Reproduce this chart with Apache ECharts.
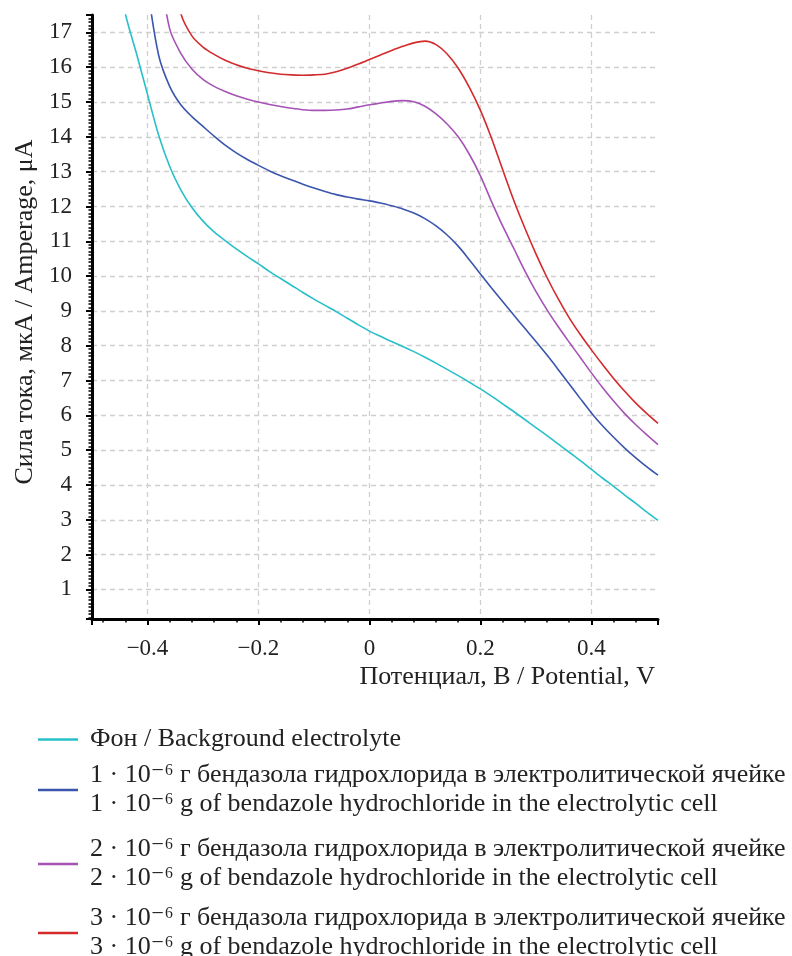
<!DOCTYPE html>
<html>
<head>
<meta charset="utf-8">
<script src="https://cdn.jsdelivr.net/npm/echarts@6/dist/echarts.min.js"></script>
<style>
  html, body { margin: 0; padding: 0; background: #fff; }
  #chart { width: 792px; height: 956px; }
</style>
</head>
<body>
<div id="chart"></div>
<script>
// potential, V
const potential = [
  -0.48, -0.46, -0.44, -0.42, -0.40, -0.38, -0.36, -0.34, -0.32, -0.30,
  -0.28, -0.26, -0.24, -0.22, -0.20, -0.18, -0.16, -0.14, -0.12, -0.10,
  -0.08, -0.06, -0.04, -0.02, 0.00, 0.02, 0.04, 0.06, 0.08, 0.10,
  0.12, 0.14, 0.16, 0.18, 0.20, 0.22, 0.24, 0.26, 0.28, 0.30,
  0.32, 0.34, 0.36, 0.38, 0.40, 0.42, 0.44, 0.46, 0.48, 0.50, 0.52
]

// current, uA
const background = [
  null, 19.4, 17.55, 16.4, 15.22, 14.05, 13.15, 12.48, 11.97, 11.58,
  11.27, 11.02, 10.78, 10.56, 10.35, 10.13, 9.93, 9.73, 9.53, 9.34,
  9.16, 8.98, 8.79, 8.6, 8.42, 8.27, 8.12, 7.98, 7.83, 7.67,
  7.5, 7.32, 7.14, 6.95, 6.76, 6.55, 6.33, 6.11, 5.88, 5.65,
  5.42, 5.18, 4.94, 4.7, 4.45, 4.2, 3.96, 3.71, 3.47, 3.22, 2.98
]
const dose1 = [
  null, null, null, null, 18.3, 16.35, 15.45, 14.92, 14.58, 14.3,
  14.02, 13.76, 13.54, 13.35, 13.18, 13.02, 12.88, 12.76, 12.64, 12.53,
  12.43, 12.34, 12.27, 12.21, 12.16, 12.1, 12.02, 11.93, 11.81, 11.65,
  11.44, 11.18, 10.86, 10.47, 10.06, 9.66, 9.27, 8.88, 8.5, 8.12,
  7.73, 7.32, 6.9, 6.48, 6.07, 5.7, 5.37, 5.06, 4.78, 4.52, 4.28
]
const dose2 = [
  null, null, null, null, null, 19.0, 17.1, 16.4, 15.95, 15.65,
  15.45, 15.3, 15.18, 15.08, 15.0, 14.93, 14.87, 14.82, 14.78, 14.76,
  14.76, 14.77, 14.8, 14.86, 14.92, 14.97, 15.02, 15.04, 15.01, 14.88,
  14.66, 14.37, 14.0, 13.5, 12.88, 12.14, 11.44, 10.8, 10.15, 9.56,
  9.03, 8.55, 8.1, 7.66, 7.22, 6.8, 6.41, 6.05, 5.73, 5.44, 5.16
]
const dose3 = [
  null, null, null, null, null, null, 19.3, 17.55, 16.9, 16.58,
  16.37, 16.2, 16.07, 15.97, 15.9, 15.84, 15.8, 15.78, 15.77, 15.78,
  15.8, 15.87, 15.97, 16.09, 16.22, 16.35, 16.48, 16.6, 16.7, 16.75,
  16.65, 16.38, 15.97, 15.42, 14.76, 13.96, 13.06, 12.18, 11.38, 10.64,
  9.96, 9.35, 8.8, 8.32, 7.88, 7.46, 7.06, 6.69, 6.35, 6.05, 5.77
]

const seriesNames = [
  'Фон / Background electrolyte',
  '1 · 10⁻⁶ г бендазола гидрохлорида в электролитической ячейке\n1 · 10⁻⁶ g of bendazole hydrochloride in the electrolytic cell',
  '2 · 10⁻⁶ г бендазола гидрохлорида в электролитической ячейке\n2 · 10⁻⁶ g of bendazole hydrochloride in the electrolytic cell',
  '3 · 10⁻⁶ г бендазола гидрохлорида в электролитической ячейке\n3 · 10⁻⁶ g of bendazole hydrochloride in the electrolytic cell'
]
const colors = ['#27c0c8', '#3a55ad', '#a653b6', '#d32a2c']
const legendTops = [720, 756, 830, 899]

const FONT = '"Liberation Serif", "DejaVu Serif", serif'

const chart = echarts.init(document.getElementById('chart'))

const curves = [background, dose1, dose2, dose3]

const fmtX = (v) => {
  if (Math.abs(v) < 1e-9) return '0'
  const s = Math.abs(v).toFixed(1)
  return v < 0 ? '−' + s : s
}

chart.setOption({
  backgroundColor: '#fff',
  animation: false,
  grid: { left: 92, right: 134, top: 15, bottom: 337, containLabel: false },
  legend: seriesNames.map((name, i) => ({
    data: [{ name, itemStyle: { color: colors[i] } }],
    left: 33,
    top: legendTops[i],
    orient: 'vertical',
    icon: 'rect',
    itemWidth: 40,
    itemHeight: 2.5,
    selectedMode: false,
    textStyle: {
      fontFamily: FONT,
      fontSize: 26,
      color: '#222',
      lineHeight: 29,
      padding: [0, 0, 0, 7],
    },
  })),
  xAxis: {
    type: 'value',
    min: -0.5,
    max: 0.52,
    name: 'Потенциал, В / Potential, V',
    nameLocation: 'end',
    nameGap: 0,
    nameTextStyle: {
      fontFamily: FONT,
      fontSize: 26,
      color: '#222',
      align: 'right',
      verticalAlign: 'top',
      padding: [45, 3, 0, 0],
    },
    axisLine: { onZero: false, lineStyle: { color: '#000', width: 3 } },
    axisTick: { length: 6, lineStyle: { color: '#000', width: 2 } },
    minorTick: { show: true, splitNumber: 5, length: 3.5, lineStyle: { color: '#000', width: 1.5 } },
    axisLabel: {
      fontFamily: FONT,
      fontSize: 23,
      color: '#222',
      margin: 18,
      showMinLabel: false,
      showMaxLabel: false,
      formatter: fmtX,
    },
    splitLine: {
      show: true,
      showMinLine: false,
      showMaxLine: false,
      lineStyle: { color: '#cfcfcf', width: 1.3, type: [5, 4] },
    },
  },
  yAxis: {
    type: 'value',
    min: 0.15,
    max: 17.5,
    splitNumber: 17,
    name: 'Сила тока, мкА / Amperage, μA',
    nameLocation: 'middle',
    nameGap: 52,
    nameTextStyle: { fontFamily: FONT, fontSize: 26, color: '#222', padding: [0, 0, 0, 10] },
    axisLine: { show: true, onZero: false, lineStyle: { color: '#000', width: 3 } },
    axisTick: { show: true, length: 6, lineStyle: { color: '#000', width: 2 } },
    minorTick: { show: true, splitNumber: 10, length: 3.5, lineStyle: { color: '#000', width: 1.5 } },
    axisLabel: {
      fontFamily: FONT,
      fontSize: 23,
      color: '#222',
      margin: 20,
      showMinLabel: false,
      showMaxLabel: false,
    },
    splitLine: {
      show: true,
      showMinLine: false,
      showMaxLine: false,
      lineStyle: { color: '#cfcfcf', width: 1.3, type: [5, 4] },
    },
  },
  series: curves.map((arr, i) => ({
    name: seriesNames[i],
    type: 'line',
    data: potential.map((x, j) => [x, arr[j]]),
    smooth: 0.3,
    symbol: 'none',
    clip: true,
    lineStyle: { color: colors[i], width: 1.6 },
    itemStyle: { color: colors[i] },
  })),
})
</script>
</body>
</html>
